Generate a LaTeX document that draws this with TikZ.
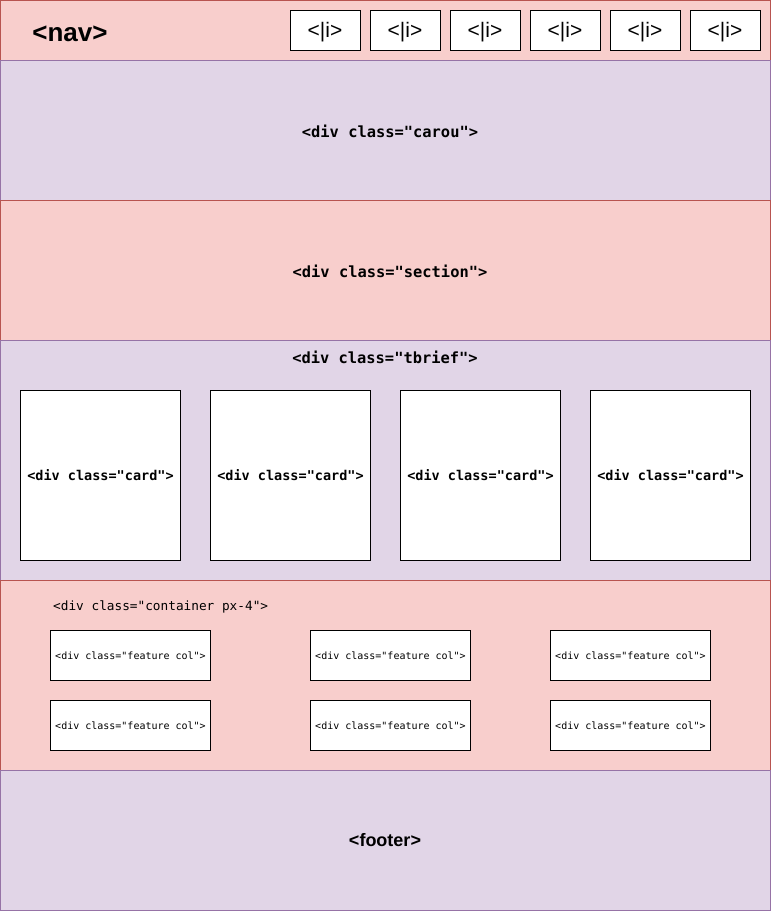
\documentclass[tikz,border=0pt]{standalone}
\usepackage{fontspec}
\setmainfont{Liberation Sans}
\newfontfamily\codefont{DejaVu Sans Mono}
\definecolor{redfill}{HTML}{F8CECC}
\definecolor{redline}{HTML}{B85450}
\definecolor{purfill}{HTML}{E1D5E7}
\definecolor{purline}{HTML}{9673A6}
\tikzset{
  redband/.style={fill=redfill, draw=redline, line width=1pt},
  purband/.style={fill=purfill, draw=purline, line width=1pt},
  whitebox/.style={fill=white, draw=black, line width=1pt, inner sep=0pt},
  bigcode/.style={font=\codefont\bfseries\fontsize{15.4}{18}\selectfont, inner sep=0pt},
  cardcode/.style={font=\codefont\bfseries\fontsize{13.5}{16}\selectfont, inner sep=0pt},
  featcode/.style={font=\codefont\fontsize{10}{12}\selectfont, inner sep=0pt},
  libox/.style={whitebox, minimum width=70pt, minimum height=40pt},
  litext/.style={inner sep=0pt, font=\fontsize{21}{24}\selectfont},
  cardbox/.style={whitebox, minimum width=160pt, minimum height=170pt, cardcode},
  featbox/.style={whitebox, minimum width=160pt, minimum height=50pt, featcode},
}
\begin{document}
\begin{tikzpicture}[x=1pt,y=-1pt]
\useasboundingbox (0,0) rectangle (771,911);
% bands
\path[redband] (0.5,0.5) rectangle (770.5,60.5);
\path[purband] (0.5,60.5) rectangle (770.5,200.5);
\path[redband] (0.5,200.5) rectangle (770.5,340.5);
\path[purband] (0.5,340.5) rectangle (770.5,580.5);
\path[redband] (0.5,580.5) rectangle (770.5,770.5);
\path[purband] (0.5,770.5) rectangle (770.5,910.5);
% nav
\node[font=\bfseries\fontsize{26}{30}\selectfont, inner sep=0pt] (nav) at (70,34) {<nav>};
\foreach \i/\x in {1/325,2/405,3/485,4/565,5/645,6/725}{
  \node[libox] (li\i) at (\x,30.5) {};
  \node[litext] (lit\i) at ([yshift=-2pt]li\i.center) {<|i>};
}
% carou, section
\node[bigcode] (carou) at (390,131) {<div class="carou">};
\node[bigcode] (section) at (390,271) {<div class="section">};
% tbrief
\node[bigcode] (tbrief) at (385,357) {<div class="tbrief">};
\foreach \i/\x in {1/100.5,2/290.5,3/480.5,4/670.5}{
  \node[cardbox] (card\i) at (\x,475.5) {<div class="card">};
}
% container
\node[featcode, font=\codefont\fontsize{12.75}{15}\selectfont, anchor=west] (cont) at (53,607) {<div class="container px-4">};
\foreach \i/\x in {1/130.5,2/390.5,3/630.5}{
  \node[featbox] (fa\i) at (\x,655.5) {<div class="feature col">};
  \node[featbox] (fb\i) at (\x,725.5) {<div class="feature col">};
}
% footer
\node[font=\bfseries\fontsize{18}{21}\selectfont, inner sep=0pt] (footer) at (385,840) {<footer>};
\end{tikzpicture}
\end{document}
